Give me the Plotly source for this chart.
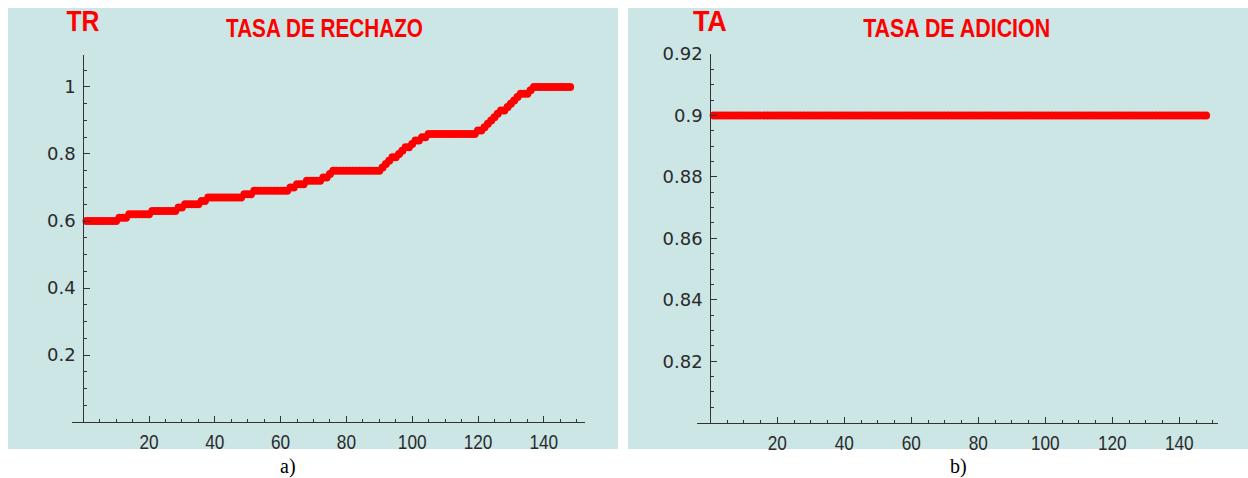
import plotly.graph_objects as go

# ---------------- data ----------------
x_vals = list(range(1, 149))

tasa_rechazo = [
    0.60, 0.60, 0.60, 0.60, 0.60, 0.60, 0.60, 0.60, 0.60, 0.60,
    0.61, 0.61, 0.61,
    0.62, 0.62, 0.62, 0.62, 0.62, 0.62, 0.62,
    0.63, 0.63, 0.63, 0.63, 0.63, 0.63, 0.63, 0.63,
    0.64, 0.64,
    0.65, 0.65, 0.65, 0.65, 0.65,
    0.66, 0.66,
    0.67, 0.67, 0.67, 0.67, 0.67, 0.67, 0.67, 0.67, 0.67, 0.67, 0.67,
    0.68, 0.68, 0.68,
    0.69, 0.69, 0.69, 0.69, 0.69, 0.69, 0.69, 0.69, 0.69, 0.69, 0.69,
    0.70, 0.70,
    0.71, 0.71, 0.71,
    0.72, 0.72, 0.72, 0.72, 0.72,
    0.73, 0.73,
    0.74,
    0.75, 0.75, 0.75, 0.75, 0.75, 0.75, 0.75, 0.75, 0.75, 0.75, 0.75, 0.75, 0.75, 0.75, 0.75,
    0.76, 0.77, 0.78, 0.79, 0.79, 0.80, 0.81, 0.82, 0.82, 0.83, 0.84, 0.84, 0.85, 0.85,
    0.86, 0.86, 0.86, 0.86, 0.86, 0.86, 0.86, 0.86, 0.86, 0.86, 0.86, 0.86, 0.86, 0.86, 0.86,
    0.87, 0.87, 0.88, 0.89, 0.90, 0.91, 0.92, 0.93, 0.93, 0.94, 0.95, 0.96, 0.97,
    0.98, 0.98, 0.98, 0.99,
    1.00, 1.00, 1.00, 1.00, 1.00, 1.00, 1.00, 1.00, 1.00, 1.00, 1.00, 1.00,
]

tasa_adicion = [
    0.9, 0.9, 0.9, 0.9, 0.9, 0.9, 0.9, 0.9, 0.9, 0.9, 0.9, 0.9, 0.9, 0.9, 0.9, 0.9, 0.9, 0.9, 0.9, 0.9,
    0.9, 0.9, 0.9, 0.9, 0.9, 0.9, 0.9, 0.9, 0.9, 0.9, 0.9, 0.9, 0.9, 0.9, 0.9, 0.9, 0.9, 0.9, 0.9, 0.9,
    0.9, 0.9, 0.9, 0.9, 0.9, 0.9, 0.9, 0.9, 0.9, 0.9, 0.9, 0.9, 0.9, 0.9, 0.9, 0.9, 0.9, 0.9, 0.9, 0.9,
    0.9, 0.9, 0.9, 0.9, 0.9, 0.9, 0.9, 0.9, 0.9, 0.9, 0.9, 0.9, 0.9, 0.9, 0.9, 0.9, 0.9, 0.9, 0.9, 0.9,
    0.9, 0.9, 0.9, 0.9, 0.9, 0.9, 0.9, 0.9, 0.9, 0.9, 0.9, 0.9, 0.9, 0.9, 0.9, 0.9, 0.9, 0.9, 0.9, 0.9,
    0.9, 0.9, 0.9, 0.9, 0.9, 0.9, 0.9, 0.9, 0.9, 0.9, 0.9, 0.9, 0.9, 0.9, 0.9, 0.9, 0.9, 0.9, 0.9, 0.9,
    0.9, 0.9, 0.9, 0.9, 0.9, 0.9, 0.9, 0.9, 0.9, 0.9, 0.9, 0.9, 0.9, 0.9, 0.9, 0.9, 0.9, 0.9, 0.9, 0.9,
    0.9, 0.9, 0.9, 0.9, 0.9, 0.9, 0.9, 0.9,
]

x_ticks = [20, 40, 60, 80, 100, 120, 140]
y_ticks_tr = [0.2, 0.4, 0.6, 0.8, 1]
y_ticktext_tr = ["0.2", "0.4", "0.6", "0.8", "1"]
y_ticks_ta = [0.82, 0.84, 0.86, 0.88, 0.90, 0.92]
y_ticktext_ta = ["0.82", "0.84", "0.86", "0.88", "0.9", "0.92"]

# ---------------- figure ----------------
W, H = 1248, 478
BG = "#CCE5E5"
RED = "#FF0000"
SANS = "Liberation Sans, Arial, sans-serif"
TICKFONT_Y = dict(family="DejaVu Sans, sans-serif", size=18, color="#2a2a2a")
TICKFONT_X = dict(family=SANS, size=21, color="#2a2a2a")


def px(x):
    return x / W


def py(y):
    return 1 - y / H


fig = go.Figure()

fig.add_trace(go.Scatter(
    x=x_vals, y=tasa_rechazo, mode="markers",
    marker=dict(color=RED, size=8, line=dict(width=0)),
    xaxis="x", yaxis="y", showlegend=False, hoverinfo="x+y",
))
fig.add_trace(go.Scatter(
    x=x_vals, y=tasa_adicion, mode="markers",
    marker=dict(color=RED, size=8, line=dict(width=0)),
    xaxis="x2", yaxis="y2", showlegend=False, hoverinfo="x+y",
))

axis_common = dict(
    showgrid=False, zeroline=False, showline=True, linecolor="#333333", linewidth=1,
    ticks="inside", tickcolor="#333333", tickwidth=1, ticklen=6, automargin=False,
)

# Left panel geometry (pixels)
L_x0_px, L_unit = 83.2, 3.29
L_xmin, L_xmax = -3.5, 152.4
L_ybot, L_unit_y = 422.0, 335.0
L_ymax = 1.095

# Right panel geometry (pixels)
R_x0_px, R_unit = 710.3, 3.35
R_xmin, R_xmax = -3.9, 151.6
R_ybot, R_ytop = 422.7, 54.0

fig.update_layout(
    template="none",
    width=W, height=H, autosize=False,
    margin=dict(l=0, r=0, t=0, b=0, pad=0, autoexpand=False),
    paper_bgcolor="white",
    plot_bgcolor="rgba(0,0,0,0)",
    showlegend=False,
    xaxis=dict(
        **axis_common,
        domain=[px(L_x0_px + L_xmin * L_unit), px(L_x0_px + L_xmax * L_unit)],
        range=[L_xmin, L_xmax],
        tickvals=x_ticks, ticktext=[str(v) for v in x_ticks],
        tickfont=TICKFONT_X, anchor="y", ticklabelstandoff=1,
        minor=dict(dtick=5, tick0=0, ticks="inside", ticklen=3, tickcolor="#333333", showgrid=False),
    ),
    yaxis=dict(
        **axis_common,
        domain=[py(L_ybot), py(L_ybot - L_ymax * L_unit_y)],
        range=[0, L_ymax],
        tickvals=y_ticks_tr, ticktext=y_ticktext_tr,
        tickfont=TICKFONT_Y, anchor="free", position=px(L_x0_px), ticklabelstandoff=4,
        minor=dict(dtick=0.05, tick0=0, ticks="inside", ticklen=3, tickcolor="#333333", showgrid=False),
    ),
    xaxis2=dict(
        **axis_common,
        domain=[px(R_x0_px + R_xmin * R_unit), px(R_x0_px + R_xmax * R_unit)],
        range=[R_xmin, R_xmax],
        tickvals=x_ticks, ticktext=[str(v) for v in x_ticks],
        tickfont=TICKFONT_X, anchor="y2", ticklabelstandoff=1,
        minor=dict(dtick=5, tick0=0, ticks="inside", ticklen=3, tickcolor="#333333", showgrid=False),
    ),
    yaxis2=dict(
        **axis_common,
        domain=[py(R_ybot), py(R_ytop)],
        range=[0.80, 0.92],
        tickvals=y_ticks_ta, ticktext=y_ticktext_ta,
        tickfont=TICKFONT_Y, anchor="free", position=px(R_x0_px), ticklabelstandoff=4,
        minor=dict(dtick=0.005, tick0=0.8, ticks="inside", ticklen=3, tickcolor="#333333", showgrid=False),
    ),
    shapes=[
        dict(type="rect", xref="paper", yref="paper", layer="below",
             x0=px(8), x1=px(618), y0=py(449), y1=py(8), fillcolor=BG, line=dict(width=0)),
        dict(type="rect", xref="paper", yref="paper", layer="below",
             x0=px(628), x1=px(1248), y0=py(449), y1=py(8), fillcolor=BG, line=dict(width=0)),
    ],
)

# (text, x px, y px, size, family, colour, weight, target width px or None)
annots = [
    ("TR", 83, 21, 30, SANS, RED, "bold", 33),
    ("TASA DE RECHAZO", 324, 28, 26, SANS, RED, "bold", 197),
    ("TA", 710, 21, 30, SANS, RED, "bold", 34),
    ("TASA DE ADICION", 956, 28, 26, SANS, RED, "bold", 187),
    ("a)", 288, 466, 20, "Liberation Serif, Times New Roman, serif", "black", "normal", None),
    ("b)", 958, 466, 20, "Liberation Serif, Times New Roman, serif", "black", "normal", None),
]
for text, ax, ay, size, fam, col, wt, _tw in annots:
    fig.add_annotation(
        text=text, x=px(ax), y=py(ay), xref="paper", yref="paper",
        xanchor="center", yanchor="middle", showarrow=False,
        font=dict(family=fam, size=size, color=col, weight=wt),
    )

targets = {t[0]: t[7] for t in annots if t[7]}
js_targets = "{" + ",".join('"%s": %s' % (k, v) for k, v in targets.items()) + "}"

# Page tweaks: no body margin / scrollbars, and condense the narrow-font texts
post_js = """
document.documentElement.style.margin='0';
document.documentElement.style.overflow='hidden';
document.body.style.margin='0';
document.body.style.overflow='hidden';
var TGT = %s;
document.querySelectorAll('.annotation-text').forEach(function(t){
  var s = t.textContent;
  if (TGT[s] !== undefined){
    t.setAttribute('textLength', TGT[s]);
    t.setAttribute('lengthAdjust', 'spacingAndGlyphs');
  }
});
function condense(sel, f){
  document.querySelectorAll(sel).forEach(function(t){
    var L = t.getComputedTextLength();
    t.setAttribute('textLength', (L*f).toFixed(2));
    t.setAttribute('lengthAdjust', 'spacingAndGlyphs');
  });
}
condense('g.xtick text', 0.82);
condense('g.x2tick text', 0.82);
""" % js_targets

fig.write_html("out.html", post_script=post_js,
               config={"displayModeBar": False, "responsive": False})
